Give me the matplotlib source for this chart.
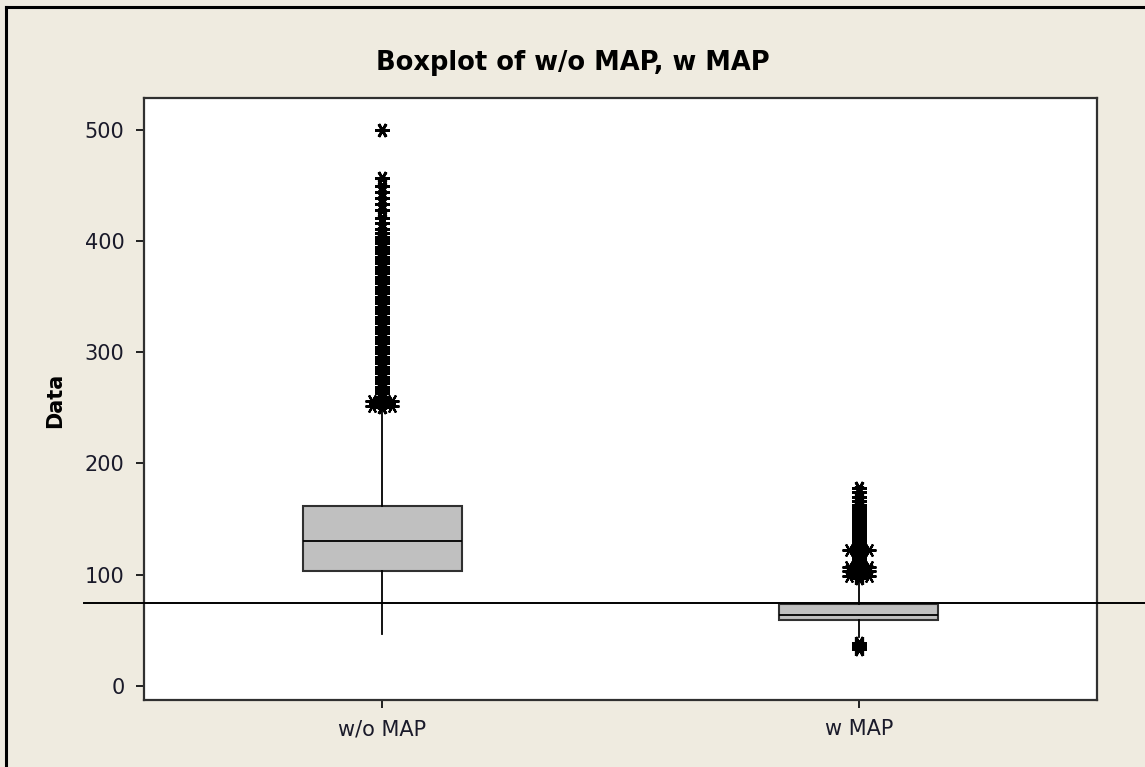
import matplotlib.pyplot as plt
import matplotlib.transforms as mtransforms
from matplotlib.lines import Line2D

labels = ["w/o MAP", "w MAP"]

# box statistics
q1 = [103, 59]
med = [130, 64]
q3 = [162, 74]
whislo = [47, 44]
whishi = [250, 95]

# outliers (asterisks)
fliers_wo = [251, 254, 257, 260, 263, 266, 269, 272, 275, 278, 281, 284, 287, 290,
             293, 296, 299, 302, 305, 308, 311, 314, 317, 320, 323, 326, 329, 332,
             335, 338, 341, 344, 347, 350, 353, 356, 359, 362, 365, 368, 371, 374,
             377, 380, 383, 386, 389, 392, 395, 398, 401, 404, 407, 411, 416, 421,
             428, 433, 439, 444, 449, 457, 500]
fliers_w = [33, 35, 37, 39, 97, 99, 101, 103, 105, 107, 109, 111, 113, 115, 117,
            119, 121, 123, 125, 127, 129, 131, 133, 135, 137, 139, 141, 143, 145,
            147, 149, 151, 153, 155, 157, 159, 161, 163, 166, 170, 174, 178]
# tied outliers that Minitab draws side by side
ties_wo = [252, 256]
ties_w = [99, 103, 107, 122]

ref_value = 75

bg = "#EFEBE0"
fig = plt.figure(figsize=(11.45, 7.67), dpi=100, facecolor=bg)
ax = fig.add_axes([0.1258, 0.0874, 0.8323, 0.7848])
ax.set_facecolor("white")

stats = []
fl = [fliers_wo, fliers_w]
for i in range(2):
    stats.append(dict(label=labels[i], q1=q1[i], med=med[i], q3=q3[i],
                      whislo=whislo[i], whishi=whishi[i], fliers=fl[i]))

mk = (6, 2, 90)
ax.bxp(stats, positions=[1, 2], widths=0.333, patch_artist=True, showcaps=False,
       boxprops=dict(facecolor="#C0C0C0", edgecolor="#303030", linewidth=1.5),
       medianprops=dict(color="black", linewidth=1.3),
       whiskerprops=dict(color="black", linewidth=1.3),
       flierprops=dict(marker=mk, markersize=10.5, markeredgewidth=2.0,
                       markeredgecolor="black", linestyle="none"))

off = 0.021
for pos, ties in [(1, ties_wo), (2, ties_w)]:
    for v in ties:
        ax.plot([pos - off, pos + off], [v, v], linestyle="none", marker=mk,
                markersize=10, markeredgewidth=1.6, color="black")

# reference line, runs past the axes on both sides
trans = mtransforms.blended_transform_factory(ax.transAxes, ax.transData)
ax.plot([-0.063, 1.06], [ref_value, ref_value], color="black", linewidth=1.4,
        transform=trans, clip_on=False, zorder=5)

ax.set_xlim(0.5, 2.5)
ax.set_ylim(-12.6, 528.5)
ax.set_yticks([0, 100, 200, 300, 400, 500])
ax.set_xticks([1, 2])
ax.set_xticklabels(labels)
ax.tick_params(axis="both", direction="out", length=6, width=1.4, color="#202020",
               labelsize=15, labelcolor="#1a1a2a", pad=8)
for s in ax.spines.values():
    s.set_linewidth(1.6)
    s.set_color("#303030")

fig.text(0.5, 1 - 63 / 767, "Boxplot of w/o MAP, w MAP", ha="center", va="center",
         fontsize=18.5, fontweight="bold")
fig.text(55 / 1145, 1 - 400 / 767, "Data", rotation=90, ha="center", va="center",
         fontsize=15, fontweight="bold")

# frame pieces of the original window
fig.add_artist(Line2D([6 / 1145, 1], [1 - 7 / 767, 1 - 7 / 767], color="black",
                      linewidth=2.2, transform=fig.transFigure))
fig.add_artist(Line2D([6 / 1145, 6 / 1145], [0, 1 - 7 / 767], color="black",
                      linewidth=2.2, transform=fig.transFigure))

fig.savefig("out.png", dpi=100, facecolor=bg)
